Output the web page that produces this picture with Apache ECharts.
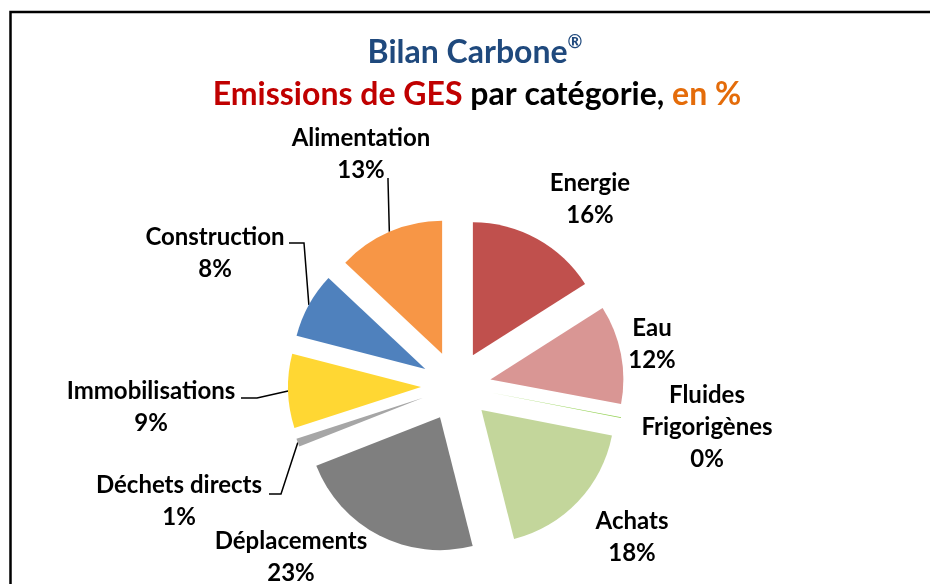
<!DOCTYPE html>
<html><head><meta charset="utf-8">
<script src="https://cdn.jsdelivr.net/npm/echarts@6/dist/echarts.min.js"></script>
<style>html,body{margin:0;padding:0;background:#fff}#c{width:930px;height:584px}</style>
</head><body><div id="c"></div>
<script>
// ---- data ----
const categories = ['Energie','Eau','Fluides\nFrigorigènes','Achats','Déplacements','Déchets directs','Immobilisations','Construction','Alimentation'];
const values = [16, 12, 0.1, 18, 23, 1, 9, 8, 13];
const colors = ['#C0504D','#D99694','#92D050','#C3D69B','#7F7F7F','#A6A6A6','#FFD733','#4F81BD','#F79646'];
const titleLine1 = 'Bilan Carbone';
const titleLine2 = ['Emissions de GES', 'par catégorie,', 'en %'];

// ---- layout ----
const CX = 456, CY = 386, R = 133, EXPLODE = 35;
const labelPos = [[590,199],[652,344.5],[707,427],[632,537],[291,557],[179,501],[151,407],[215,253.5],[361,154.5]];
const leader = {5: [[281,494],[269,494]], 6: [[257,398],[241,398]], 7: [[304,243],[289,243]], 8: [[388,180],[388,178]]};

const chart = echarts.init(document.getElementById('c'));
const total = values.reduce((a,b)=>a+b,0);
let acc = 0;
const series = values.map((v,i)=>{
  const mid = (acc + v/2)/total*2*Math.PI; acc += v;
  const cx = CX + EXPLODE*Math.sin(mid), cy = CY - EXPLODE*Math.cos(mid);
  const start = [cx + R*Math.sin(mid), cy - R*Math.cos(mid)];
  return {
    type:'pie', silent:true, animation:false, center:[cx,cy], radius:[0,R], startAngle:90, clockwise:true,
    avoidLabelOverlap:false, minAngle:0, emphasis:{disabled:true},
    data: values.map((w,j)=>({name:categories[j], value:w,
      itemStyle: j===i ? {color:colors[j], borderWidth:0} : {color:'rgba(0,0,0,0)', borderWidth:0},
      label:{show:j===i}, labelLine:{show:j===i && leader[j]!=null}})),
    label:{position:'outside', formatter:p=>p.name+'\n'+Math.round(p.value)+'%', fontFamily:'Lato', fontWeight:'bold', fontSize:24, color:'#000', lineHeight:32},
    labelLine:{lineStyle:{color:'#000', width:1.5}},
    labelLayout: p => {
      if (p.dataIndex !== i) return {};
      const pos = labelPos[i];
      const o = {x:pos[0], y:pos[1], align:'center', verticalAlign:'middle'};
      if (leader[i]) o.labelLinePoints = [start, leader[i][0], leader[i][1]];
      return o;
    }
  };
});

const F = {fontFamily:'Lato', fontWeight:'bold', fontSize:32};
chart.setOption({
  backgroundColor:'#fff',
  graphic:[
    {type:'rect', silent:true, shape:{x:10.5, y:12, width:940, height:600}, style:{fill:'none', stroke:'#000', lineWidth:2.5}},
    {type:'text', silent:true, x:475, y:53, style:{
      text:'{b|'+titleLine1+'}{s|®}', align:'center', verticalAlign:'middle',
      rich:{b:Object.assign({fill:'#1F497D', lineHeight:40}, F),
            s:{fontFamily:'Lato', fontWeight:'bold', fontSize:18, fill:'#1F497D', lineHeight:40, verticalAlign:'top'}}}},
    {type:'text', silent:true, x:477, y:95, style:{
      text:'{r|'+titleLine2[0]+'}{k| '+titleLine2[1]+' }{o|'+titleLine2[2]+'}', align:'center', verticalAlign:'middle',
      rich:{r:Object.assign({fill:'#C00000', lineHeight:40}, F),
            k:Object.assign({fill:'#000', lineHeight:40}, F),
            o:Object.assign({fill:'#E46C0A', lineHeight:40}, F)}}}
  ],
  series: series
});
</script></body></html>
